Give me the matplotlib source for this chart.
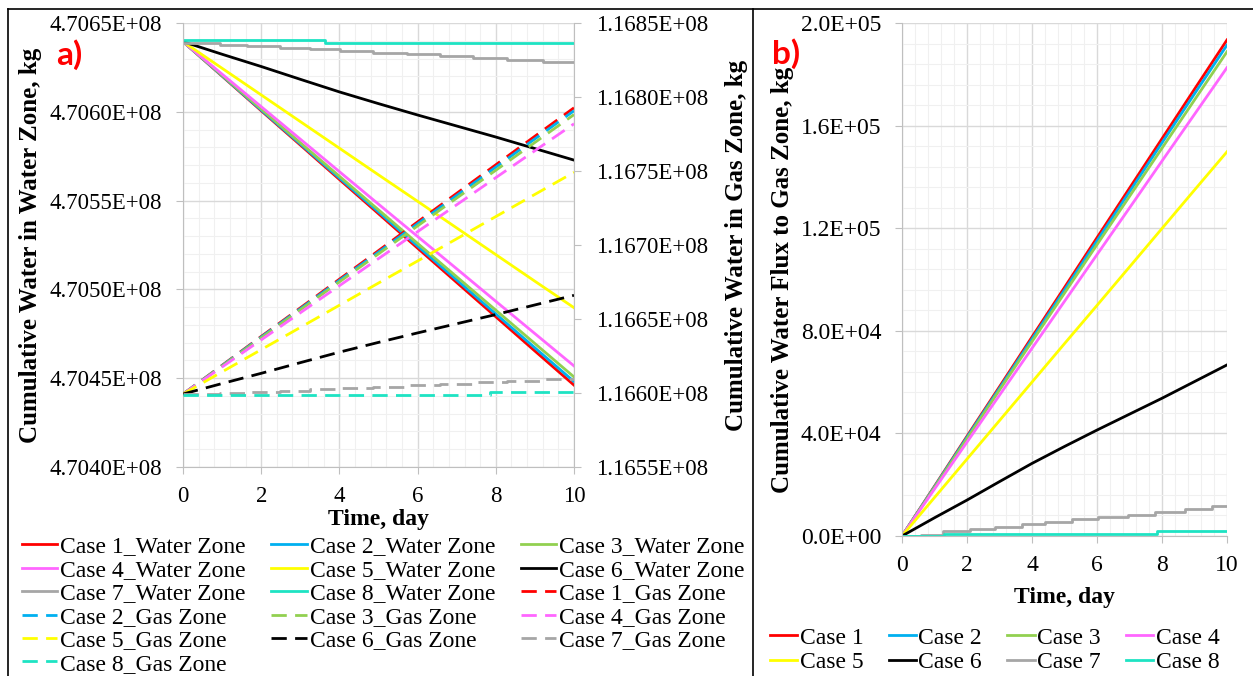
import matplotlib
matplotlib.use("Agg")
import matplotlib.pyplot as plt
from matplotlib.ticker import MultipleLocator, FuncFormatter
from matplotlib.lines import Line2D

# ---------------------------------------------------------------- data
days = [0, 1, 2, 3, 4, 5, 6, 7, 8, 9, 10]

# a) cumulative water in water zone, kg (left axis)
water_1 = [470639500, 470620100, 470600600, 470581300, 470561900, 470542600, 470523200, 470503900, 470484600, 470465300, 470446100]
water_2 = [470639500, 470620300, 470601000, 470581900, 470562700, 470543600, 470524400, 470505300, 470486200, 470467100, 470448100]
water_3 = [470639500, 470620600, 470601600, 470582600, 470563700, 470544800, 470525900, 470507100, 470488300, 470469500, 470450700]
water_4 = [470639500, 470621200, 470602900, 470584600, 470566300, 470548000, 470529800, 470511600, 470493300, 470475100, 470456900]
water_5 = [470639500, 470624500, 470609500, 470594500, 470579500, 470564500, 470549600, 470534600, 470519600, 470504600, 470489700]
water_6 = [470639500, 470632400, 470625500, 470618300, 470611200, 470604600, 470598200, 470592000, 470585800, 470579300, 470572800]
days_w7 = [0, 0.95, 1.63, 2.48, 3.25, 4.02, 4.87, 5.72, 6.57, 7.42, 8.28, 9.21, 10]
water_7 = [470639000, 470637800, 470637050, 470636110, 470635170, 470634420, 470633290, 470632360, 470631230, 470630100, 470629170, 470628230, 470628230]
days_w8 = [0, 3.63, 10]
water_8 = [470640200, 470638900, 470638900]

# a) cumulative water in gas zone, kg (right axis)
gas_1 = [116599300, 116618700, 116638200, 116657500, 116676900, 116696200, 116715600, 116734900, 116754200, 116773500, 116792700]
gas_2 = [116599300, 116618500, 116637800, 116656900, 116676100, 116695200, 116714400, 116733500, 116752600, 116771700, 116790700]
gas_3 = [116599300, 116618200, 116637200, 116656200, 116675100, 116694000, 116712900, 116731700, 116750500, 116769300, 116788100]
gas_4 = [116599300, 116617600, 116635900, 116654200, 116672500, 116690800, 116709000, 116727200, 116745500, 116763700, 116781900]
gas_5 = [116599300, 116614300, 116629300, 116644300, 116659300, 116674300, 116689200, 116704200, 116719200, 116734200, 116749100]
gas_6 = [116599300, 116606400, 116613300, 116620500, 116627600, 116634200, 116640600, 116646800, 116653000, 116659500, 116666000]
gas_7 = [116599300, 116600000, 116600800, 116601500, 116602400, 116603400, 116604100, 116605200, 116606100, 116607300, 116608400, 116609300, 116609300]
days_g8 = [0, 7.85, 10]
gas_8 = [116598700, 116600400, 116600400]

# b) cumulative water flux to gas zone, kg
flux_1 = [0, 19400, 38900, 58200, 77600, 96900, 116300, 135600, 154900, 174200, 193400]
flux_2 = [0, 19200, 38500, 57600, 76800, 95900, 115100, 134200, 153300, 172400, 191400]
flux_3 = [0, 18900, 37900, 56900, 75800, 94700, 113600, 132400, 151200, 170000, 188800]
flux_4 = [0, 18300, 36600, 54900, 73200, 91500, 109700, 127900, 146200, 164400, 182600]
flux_5 = [0, 15000, 30000, 45000, 60000, 75000, 89900, 104900, 119900, 134900, 149800]
flux_6 = [0, 7100, 14000, 21200, 28300, 34900, 41300, 47500, 53700, 60200, 66700]
days_f7 = [0, 0.6, 1.27, 2.09, 2.86, 3.68, 4.40, 5.22, 6.04, 6.96, 7.78, 8.71, 9.53, 10]
flux_7 = [0, 300, 1800, 2700, 3600, 4800, 5600, 6500, 7300, 8300, 9400, 10400, 11700, 11700]
days_f8 = [0, 1.28, 7.84, 10]
flux_8 = [0, 800, 1900, 1900]

cases = ["Case 1", "Case 2", "Case 3", "Case 4", "Case 5", "Case 6", "Case 7", "Case 8"]
colors = ["#FF0000", "#00B0F0", "#92D050", "#FF66FF", "#FFFF00", "#000000", "#A6A6A6", "#1EE3C3"]

# ---------------------------------------------------------------- style
plt.rcParams["font.family"] = ["Liberation Serif", "DejaVu Serif"]
GRID_MAJOR = "#D9D9D9"
GRID_MINOR = "#F0F0F0"
AXIS_GRAY = "#BFBFBF"
LW = 2.0
DASH = (0, (5.5, 3))


def style_axis(ax, tick_size):
    for side in ["top", "right"]:
        ax.spines[side].set_visible(False)
    for side in ["left", "bottom"]:
        ax.spines[side].set_color(AXIS_GRAY)
    ax.grid(True, which="major", color=GRID_MAJOR, lw=1.0)
    ax.grid(True, which="minor", color=GRID_MINOR, lw=0.8)
    ax.set_axisbelow(True)
    ax.tick_params(which="major", direction="out", length=5, color=AXIS_GRAY,
                   labelsize=tick_size)
    ax.tick_params(which="minor", length=0)
    ax.tick_params(axis="x", pad=9)
    ax.tick_params(axis="y", pad=10)


fig = plt.figure(figsize=(12.53, 6.76), dpi=100)

# ---------------------------------------------------------------- panel a
ax1 = fig.add_axes([183 / 1253, 1 - 467 / 676, 391 / 1253, 444 / 676])
ax2 = ax1.twinx()

water = [water_1, water_2, water_3, water_4, water_5, water_6]
gas = [gas_1, gas_2, gas_3, gas_4, gas_5, gas_6]

water_lines = []
for i in range(6):
    l, = ax1.plot(days, water[i], color=colors[i], lw=LW)
    water_lines.append(l)
l, = ax1.plot(days_w7, water_7, color=colors[6], lw=LW, drawstyle="steps-post")
water_lines.append(l)
l, = ax1.plot(days_w8, water_8, color=colors[7], lw=LW, drawstyle="steps-post")
water_lines.append(l)

gas_lines = []
for i in range(6):
    l, = ax2.plot(days, gas[i], color=colors[i], lw=LW, ls=DASH)
    gas_lines.append(l)
l, = ax2.plot(days_w7, gas_7, color=colors[6], lw=LW, ls=DASH, drawstyle="steps-post")
gas_lines.append(l)
l, = ax2.plot(days_g8, gas_8, color=colors[7], lw=LW, ls=DASH, drawstyle="steps-post")
gas_lines.append(l)

ax1.set_xlim(0, 10)
ax1.set_ylim(4.7040e8, 4.7065e8)
ax2.set_ylim(1.1655e8, 1.1685e8)
ax1.xaxis.set_major_locator(MultipleLocator(2))
ax1.xaxis.set_minor_locator(MultipleLocator(0.4))
ax1.yaxis.set_major_locator(MultipleLocator(5e4))
ax1.yaxis.set_minor_locator(MultipleLocator(1e4))
ax2.yaxis.set_major_locator(MultipleLocator(5e4))
ax1.yaxis.set_major_formatter(FuncFormatter(lambda v, p: f"{v:.4E}"))
ax2.yaxis.set_major_formatter(FuncFormatter(lambda v, p: f"{v:.4E}"))
style_axis(ax1, 16.5)
for side in ["left", "top", "bottom"]:
    ax2.spines[side].set_visible(False)
ax2.spines["right"].set_color(AXIS_GRAY)
ax2.tick_params(which="major", direction="out", length=5, color=AXIS_GRAY,
                labelsize=16.5, pad=11)
ax2.tick_params(which="minor", length=0)

ax1.set_xlabel("Time, day", fontsize=17, fontweight="bold")
ax1.xaxis.set_label_coords(0.5, -0.095)
ax1.set_ylabel("Cumulative Water in Water Zone, kg", fontsize=18, fontweight="bold")
ax1.yaxis.set_label_coords(-0.36, 0.5)
ax2.set_ylabel("Cumulative Water in Gas Zone, kg", fontsize=18, fontweight="bold")
ax2.yaxis.set_label_coords(1.385, 0.5)

# legend, filled row by row like the original
labels_a = [c + "_Water Zone" for c in cases] + [c + "_Gas Zone" for c in cases]
handles_a = water_lines + gas_lines
order_a = [0, 3, 6, 9, 12, 15, 1, 4, 7, 10, 13, 2, 5, 8, 11, 14]
fig.legend([handles_a[k] for k in order_a], [labels_a[k] for k in order_a],
           loc="upper left", bbox_to_anchor=(22 / 1253, 1 - 536 / 676), ncol=3,
           frameon=False, fontsize=17, handlelength=1.5, handletextpad=0.12,
           columnspacing=1.08, labelspacing=0.08, borderpad=0, borderaxespad=0)

fig.text(69 / 1253, 1 - 55 / 676, "a)", color="red", fontsize=24, fontweight="bold",
         family=["Lato", "Liberation Sans"], ha="center", va="center")

# ---------------------------------------------------------------- panel b
axb = fig.add_axes([902 / 1253, 1 - 536 / 676, 325 / 1253, 513 / 676])
flux = [flux_1, flux_2, flux_3, flux_4, flux_5, flux_6]
flux_lines = []
for i in range(6):
    l, = axb.plot(days, flux[i], color=colors[i], lw=LW)
    flux_lines.append(l)
l, = axb.plot(days_f7, flux_7, color=colors[6], lw=LW, drawstyle="steps-post")
flux_lines.append(l)
l, = axb.plot(days_f8, flux_8, color=colors[7], lw=LW, drawstyle="steps-post")
flux_lines.append(l)

axb.set_xlim(0, 10)
axb.set_ylim(0, 2.0e5)
axb.xaxis.set_major_locator(MultipleLocator(2))
axb.xaxis.set_minor_locator(MultipleLocator(0.4))
axb.yaxis.set_major_locator(MultipleLocator(4e4))
axb.yaxis.set_minor_locator(MultipleLocator(8e3))
axb.yaxis.set_major_formatter(FuncFormatter(lambda v, p: f"{v:.1E}"))
style_axis(axb, 17)
axb.set_xlabel("Time, day", fontsize=17, fontweight="bold")
axb.xaxis.set_label_coords(0.5, -0.099)
axb.set_ylabel("Cumulative Water Flux to Gas Zone, kg", fontsize=18, fontweight="bold")
axb.yaxis.set_label_coords(-0.333, 0.5)

order_b = [0, 4, 1, 5, 2, 6, 3, 7]
fig.legend([flux_lines[k] for k in order_b], [cases[k] for k in order_b],
           loc="upper left", bbox_to_anchor=(770 / 1253, 1 - 627 / 676), ncol=4,
           frameon=False, fontsize=17, handlelength=1.15, handletextpad=0.1,
           columnspacing=1.08, labelspacing=0.12, borderpad=0, borderaxespad=0)

fig.text(786 / 1253, 1 - 54 / 676, "b)", color="red", fontsize=24, fontweight="bold",
         family=["Lato", "Liberation Sans"], ha="center", va="center")

# ---------------------------------------------------------------- frame lines
fig.add_artist(Line2D([8 / 1253, 1], [1 - 9 / 676] * 2, color="black", lw=1.2))
fig.add_artist(Line2D([8 / 1253] * 2, [0, 1 - 9 / 676], color="black", lw=1.2))
fig.add_artist(Line2D([753 / 1253] * 2, [0, 1 - 9 / 676], color="black", lw=1.2))

fig.savefig("out.png", dpi=100)
